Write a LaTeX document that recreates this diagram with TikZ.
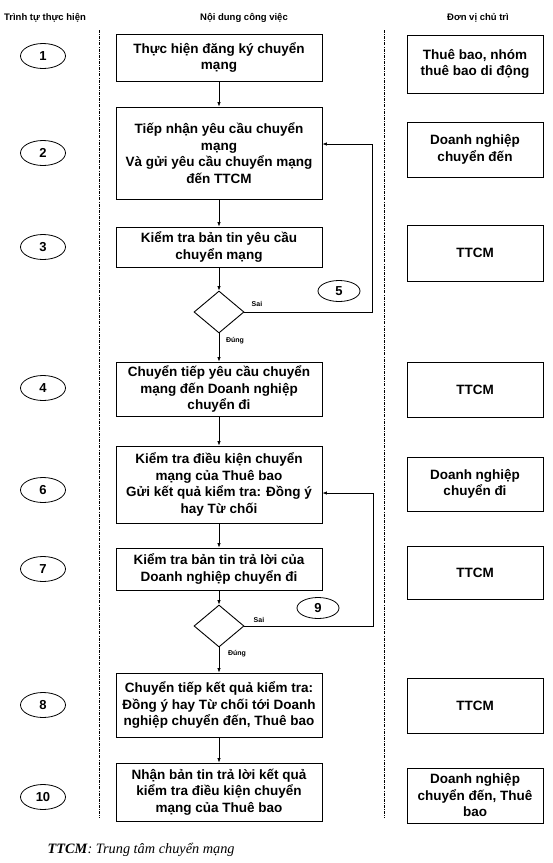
\documentclass[tikz,border=0pt]{standalone}
\usepackage{fontspec}
\setmainfont{Liberation Sans}
\newfontfamily\notefont{Liberation Serif}
\usetikzlibrary{arrows.meta,shapes.geometric,positioning,calc}
\tikzset{
  workbox/.style={
    rectangle, draw=black, line width=0.9pt, minimum width=206pt,
    inner sep=2pt, align=center,
    font={\bfseries\fontsize{13.5}{16.5}\selectfont}
  },
  %
  unitbox/.style={
    rectangle, draw=black, line width=0.9pt, minimum width=136pt,
    inner sep=2pt, align=center,
    font={\bfseries\fontsize{13.5}{16.5}\selectfont}
  },
  %
  orderno/.style={
    ellipse, draw=black, line width=0.8pt, minimum width=45pt,
    minimum height=25pt, inner sep=0pt,
    font={\bfseries\fontsize{13}{13}\selectfont}
  },
  %
  decision/.style={
    diamond, draw=black, line width=0.9pt, minimum width=50pt,
    minimum height=42pt, inner sep=0pt
  },
  %
  colhead/.style={font={\bfseries\fontsize{9.5}{10}\selectfont}},
  branch/.style={font={\bfseries\fontsize{7}{8}\selectfont}, inner sep=1pt},
  lane/.style={line width=0.8pt, dash pattern=on 3pt off 1.2pt on 0.8pt off 1.2pt},
  flow/.style={-{Latex[length=4.5pt,width=3.5pt]}, line width=0.7pt}
}

\begin{document}
\begin{tikzpicture}[x=1pt,y=-1pt]
\useasboundingbox (0,0) rectangle (553,863);

% column headings
\node(hOrder)[colhead] at (45,18) {Trình tự thực hiện};
\node(hTask)[colhead] at (244,18) {Nội dung công việc};
\node(hUnit)[colhead] at (478,18) {Đơn vị chủ trì};

% lane dividers
\coordinate (laneAtop) at (99,30);
\coordinate (laneAbot) at (99,818);
\coordinate (laneBtop) at (384,30);
\coordinate (laneBbot) at (384,818);
\draw[lane] (laneAtop) -- (laneAbot);
\draw[lane] (laneBtop) -- (laneBbot);

% work steps
\node(task1)[workbox, minimum height=47pt] at (219,57.5) {Thực hiện đăng ký chuyển\\mạng};
\node(task2)[workbox, minimum height=92pt] at (219,153) {Tiếp nhận yêu cầu chuyển\\mạng\\Và gửi yêu cầu chuyển mạng\\đến TTCM};
\node(task3)[workbox, minimum height=40pt] at (219,247) {Kiểm tra bản tin yêu cầu\\chuyển mạng};
\node(check1)[decision] at (219,312) {};
\node(task4)[workbox, minimum height=54pt] at (219,389) {Chuyển tiếp yêu cầu chuyển\\mạng đến Doanh nghiệp\\chuyển đi};
\node(task6)[workbox, minimum height=77pt] at (219,484.5) {Kiểm tra điều kiện chuyển\\mạng của Thuê bao\\Gửi kết quả kiểm tra: Đồng ý\\hay Từ chối};
\node(task7)[workbox, minimum height=42pt] at (219,569) {Kiểm tra bản tin trả lời của\\Doanh nghiệp chuyển đi};
\node(check2)[decision] at (219,626) {};
\node(task8)[workbox, minimum height=64pt] at (219,705) {Chuyển tiếp kết quả kiểm tra:\\Đồng ý hay Từ chối tới Doanh\\nghiệp chuyển đến, Thuê bao};
\node(task10)[workbox, minimum height=58pt] at (219,792) {Nhận bản tin trả lời kết quả\\kiểm tra điều kiện chuyển\\mạng của Thuê bao};

% responsible units
\node(unit1)[unitbox, minimum height=58pt] at (475,64) {Thuê bao, nhóm\\thuê bao di động};
\node(unit2)[unitbox, minimum height=55pt] at (475,149.5) {Doanh nghiệp\\chuyển đến};
\node(unit3)[unitbox, minimum height=56pt] at (475,253) {TTCM};
\node(unit4)[unitbox, minimum height=55pt] at (475,389.5) {TTCM};
\node(unit6)[unitbox, minimum height=54pt] at (475,484) {Doanh nghiệp\\chuyển đi};
\node(unit7)[unitbox, minimum height=53pt] at (475,572.5) {TTCM};
\node(unit8)[unitbox, minimum height=55pt] at (475,705.5) {TTCM};
\node(unit10)[unitbox, minimum height=55pt] at (475,795.5) {Doanh nghiệp\\chuyển đến, Thuê\\bao};

% step numbers
\node(no1)[orderno] at (43,56) {1};
\node(no2)[orderno] at (43,153) {2};
\node(no3)[orderno] at (43,247) {3};
\node(no4)[orderno] at (43,388) {4};
\node(no6)[orderno] at (43,490) {6};
\node(no7)[orderno] at (43,569) {7};
\node(no8)[orderno] at (43,705) {8};
\node(no10)[orderno] at (43,797) {10};
\node(no5)[orderno, minimum width=42pt, minimum height=21pt] at (339,291) {5};
\node(no9)[orderno, minimum width=42pt, minimum height=21pt] at (318,608) {9};

% branch labels
\node(no1sai)[branch] at (257,304) {Sai};
\node(no1dung)[branch] at (235,341) {Đúng};
\node(no2sai)[branch] at (259,620) {Sai};
\node(no2dung)[branch] at (237,654) {Đúng};

% flow
\draw[flow] (task1) -- (task2);
\draw[flow] (task2) -- (task3);
\draw[flow] (task3) -- (check1);
\draw[flow] (check1) -- (task4);
\draw[flow] (task4) -- (task6);
\draw[flow] (task6) -- (task7);
\draw[flow] (task7) -- (check2);
\draw[flow] (check2) -- (task8);
\draw[flow] (task8) -- (task10);

% back loops
\coordinate (loop1) at (372,144);
\coordinate (loop2) at (373,493);
\draw[flow] (check1.east) -| (loop1) -- (loop1 -| task2.east);
\draw[flow] (check2.east) -| (loop2) -- (loop2 -| task6.east);

% note
\node(note)[anchor=west, font={\notefont\fontsize{14.3}{16}\selectfont}] at (44,850) {\textbf{\textit{TTCM}}\textit{: Trung tâm chuyển mạng}};

\end{tikzpicture}
\end{document}
